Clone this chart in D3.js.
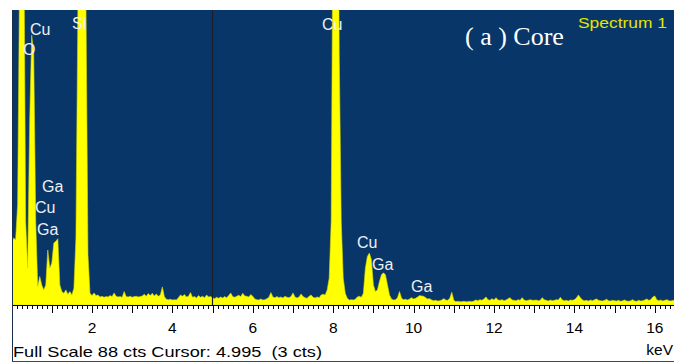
<!DOCTYPE html>
<html><head><meta charset="utf-8">
<script src="https://cdn.jsdelivr.net/npm/d3@7"></script>
<style>html,body{margin:0;padding:0;background:#fff;overflow:hidden}</style>
</head><body>
<svg id="chart" width="674" height="363"></svg>
<script>
// EDS spectrum: counts per 0.05 keV channel, starting at 0 keV
const channelKeV = 0.05;
const counts = [
  18, 20, 19.5, 30, 100, 300, 120, 25, 11, 55, 80.5, 75, 25, 5.5, 8.5, 6, 4.5, 6, 16.4, 11,
  12.5, 18.5, 19, 19.8, 6, 4, 3.5, 4.5, 3.2, 4, 3, 5, 20, 90, 220, 260, 200, 90, 15, 3.5,
  2.8, 3.6, 2.8, 3, 2.4, 2.6, 2.3, 2.5, 2.4, 2.8, 2.5, 3.6, 2.6, 2.4, 2.5, 2.3, 4, 2.5, 2.4, 2.6,
  2.3, 2.5, 2.6, 2.4, 2.5, 2.7, 3.2, 2.6, 3.4, 2.8, 3.5, 2.7, 3.3, 2.6, 3, 5.4, 2.5, 1.7, 1.6, 1.7,
  1.5, 1.6, 1.5, 2.2, 3, 2.6, 3.1, 2.4, 2.6, 3.7, 2.3, 2.5, 2.1, 2.8, 2.3, 2.6, 2.2, 3, 2.4, 2.5,
  2.2, 1.9, 2.3, 2, 2.4, 2.1, 2.5, 2.2, 2.8, 3.6, 2.5, 2.3, 2.6, 2.9, 2.5, 3.5, 2.7, 2.6, 2.4, 3.1,
  2.6, 1.8, 1.6, 1.5, 1.8, 1.5, 1.6, 1.9, 2.3, 3.7, 2.4, 2.2, 2.5, 2.2, 2.4, 2.1, 2.6, 2.3, 2.2, 2.5,
  3.6, 2.4, 2.1, 2.4, 3.3, 2.5, 2.2, 2, 2.6, 3, 2.3, 2.1, 2.4, 2.2, 3, 3.2, 3, 4.5, 8, 25,
  130, 260, 180, 75, 25, 8, 3.5, 2, 1.5, 1.6, 1.5, 1.7, 2.4, 2.6, 2.3, 3.5, 11, 14.5, 15.5, 13.5,
  6, 4, 4.5, 7, 9, 9.6, 9, 6, 3, 1.8, 1.5, 1.6, 2.2, 4, 2, 1.6, 1.7, 1.5, 1.8, 2.2,
  1.8, 2, 2.4, 2.8, 2.7, 2.6, 2.2, 1.8, 1.9, 1.5, 1.3, 1.4, 1.2, 1.3, 1.5, 1.9, 1.5, 1.4, 2, 3.8,
  1.4, 1, 1.1, 1, 1, 1.1, 1, 1, 1.1, 1, 1.2, 1.5, 1.3, 1.6, 1.4, 1.8, 2.4, 1.6, 1.4, 1.9,
  1.5, 2.2, 1.5, 1.4, 1.6, 1.3, 1.5, 1.9, 2.2, 1.5, 1.4, 1.3, 1.6, 1.4, 2.2, 1.5, 1.3, 1.4, 1.6, 1.4,
  1.4, 1.5, 1.3, 1.4, 2.2, 1.6, 1.4, 1.2, 1.5, 1.3, 1.4, 1.6, 1.5, 2.3, 1.5, 1.3, 1.4, 1.2, 1.5, 1.4,
  1.6, 2.1, 3, 2.2, 1.5, 1.3, 1.4, 1.2, 1.5, 1.3, 1.6, 1.8, 1.4, 1.3, 1.2, 1.4, 1.7, 1.3, 1.2, 1.4,
  1.3, 1.2, 1.4, 1.1, 1.3, 1.5, 1.2, 1.1, 1.3, 1.6, 1.2, 1.1, 1.4, 1.2, 1.3, 1.5, 1.8, 1.4, 1.6, 2.4,
  2.7, 1.6, 1.3, 1.5, 1.2, 1.4, 1.6, 1.3, 1.2, 1.4, 1.3, 1.2
];
const xTickLabels = [2, 4, 6, 8, 10, 12, 14, 16];
const peakLabels = ["Cu", "O", "Si", "Ga", "Cu", "Ga", "Cu", "Cu", "Ga", "Ga"];
const labelKeV   = [0.458, 0.284, 1.502, 0.756, 0.582, 0.632, 7.721, 8.592, 8.965, 9.935];
const labelCts   = [80.5, 74.6, 82.2, 33.7, 27.4, 20.9, 82.0, 17.0, 10.4, 3.9];
const fullScaleCts = 88;
const cursorKeV = 4.995;
const cursorCts = 3;
const spectrumName = "Spectrum 1";
const panelTitle = "( a ) Core";

const svg = d3.select("#chart");
const W = 674, H = 363;
const plot = {left: 12, top: 10, right: 674, bottom: 305};

const x = d3.scaleLinear().domain([0, 16.5]).range([11.6, 11.6 + 16.5 * 40.2]);
const y = d3.scaleLinear().domain([0, fullScaleCts]).range([plot.bottom, plot.top]);

svg.append("rect").attr("width", W).attr("height", H).attr("fill", "#fff");

svg.append("defs").append("clipPath").attr("id", "clip")
  .append("rect").attr("x", plot.left).attr("y", plot.top)
  .attr("width", plot.right - plot.left).attr("height", plot.bottom - plot.top);

svg.append("rect").attr("x", plot.left).attr("y", plot.top)
  .attr("width", plot.right - plot.left).attr("height", plot.bottom - plot.top)
  .attr("fill", "#093668");

const area = d3.area()
  .x((d, i) => x(i * channelKeV))
  .y0(y(0))
  .y1(d => y(d));

svg.append("path").datum(counts)
  .attr("clip-path", "url(#clip)")
  .attr("d", area)
  .attr("fill", "#ffff00")
  .attr("stroke", "#d8d800").attr("stroke-width", 0.6);

// cursor line
svg.append("line")
  .attr("x1", Math.round(x(cursorKeV)) + 0.5).attr("x2", Math.round(x(cursorKeV)) + 0.5)
  .attr("y1", plot.top).attr("y2", plot.bottom)
  .attr("stroke", "#1a1f2a").attr("stroke-width", 1.2);

// axis
const gAxis = svg.append("g");
gAxis.append("line").attr("x1", plot.left).attr("x2", plot.right)
  .attr("y1", plot.bottom + 0.5).attr("y2", plot.bottom + 0.5)
  .attr("stroke", "#000").attr("stroke-width", 1.2);
const tickVals = d3.range(0, 16.55, 0.125);
gAxis.selectAll("line.tick").data(tickVals).enter().append("line")
  .attr("class", "tick")
  .attr("x1", d => Math.round(x(d)) + 0.5).attr("x2", d => Math.round(x(d)) + 0.5)
  .attr("y1", plot.bottom + 1)
  .attr("y2", d => plot.bottom + (Math.abs(d - Math.round(d)) < 1e-6 ? 8 : 4))
  .attr("stroke", "#000").attr("stroke-width", 1)
  .attr("display", d => x(d) < plot.left ? "none" : null);
gAxis.selectAll("text.tl").data(xTickLabels).enter().append("text")
  .attr("class", "tl")
  .attr("x", d => x(d)).attr("y", 333)
  .attr("text-anchor", "middle")
  .attr("font-family", "Liberation Sans, Arial, sans-serif")
  .attr("font-size", 15.5).attr("fill", "#000")
  .text(d => d);

svg.append("text").attr("x", 673).attr("y", 355).attr("text-anchor", "end")
  .attr("font-family", "Liberation Sans, Arial, sans-serif").attr("font-size", 15.5)
  .attr("fill", "#000").text("keV");

svg.append("text").attr("x", 13).attr("y", 357)
  .attr("font-family", "Liberation Sans, Arial, sans-serif").attr("font-size", 15)
  .attr("fill", "#000").style("white-space", "pre")
  .attr("textLength", 309).attr("lengthAdjust", "spacingAndGlyphs")
  .text(`Full Scale ${fullScaleCts} cts Cursor: ${cursorKeV.toFixed(3)}  (${cursorCts} cts)`);

// frame
svg.append("line").attr("x1", 12.5).attr("x2", 12.5).attr("y1", plot.top).attr("y2", 361.5)
  .attr("stroke", "#1c2f4a").attr("stroke-width", 1);
svg.append("line").attr("x1", 12).attr("x2", W).attr("y1", 361.5).attr("y2", 361.5)
  .attr("stroke", "#2a4a7a").attr("stroke-width", 1.2);

// peak labels
svg.selectAll("text.pk").data(peakLabels).enter().append("text")
  .attr("class", "pk")
  .attr("x", (d, i) => x(labelKeV[i])).attr("y", (d, i) => y(labelCts[i]))
  .attr("font-family", "Liberation Sans, Arial, sans-serif").attr("font-size", 16)
  .attr("fill", "#eef0f4").text(d => d);

svg.append("text").attr("x", 578).attr("y", 28)
  .attr("font-family", "Liberation Sans, Arial, sans-serif").attr("font-size", 14)
  .attr("fill", "#e4e400").attr("textLength", 89).attr("lengthAdjust", "spacingAndGlyphs")
  .text(spectrumName);

svg.append("text").attr("x", 465).attr("y", 45)
  .attr("font-family", "Liberation Serif, Times New Roman, serif").attr("font-size", 26)
  .attr("fill", "#ffffff").style("white-space", "pre")
  .text(panelTitle);
</script>
</body></html>
